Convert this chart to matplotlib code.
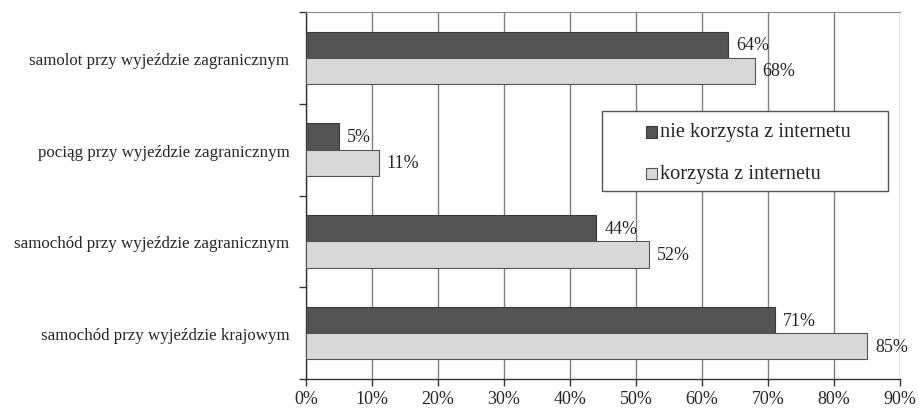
import matplotlib
matplotlib.use("Agg")
import matplotlib.pyplot as plt
import numpy as np
from matplotlib.patches import Rectangle

plt.rcParams['font.family'] = ['Liberation Serif', 'DejaVu Serif']

categories = [
    "samolot przy wyjeździe zagranicznym",
    "pociąg przy wyjeździe zagranicznym",
    "samochód przy wyjeździe zagranicznym",
    "samochód przy wyjeździe krajowym",
]
no_internet = [64, 5, 44, 71]
internet = [68, 11, 52, 85]
series_names = ["nie korzysta z internetu", "korzysta z internetu"]
xticks = [0, 10, 20, 30, 40, 50, 60, 70, 80, 90]

dark = "#545454"
light = "#d9d9d9"
edge = "#3a3a3a"
text_color = "#262626"

W, H = 920, 410
fig = plt.figure(figsize=(W / 100, H / 100), dpi=100)
ax = fig.add_axes([306 / W, 30 / H, 594 / W, 367 / H])

n = len(categories)
pos = np.arange(n)[::-1].astype(float)  # first category at top
h = 0.285

ax.barh(pos + h / 2, no_internet, height=h, color=dark, edgecolor=edge, linewidth=0.8, zorder=3)
ax.barh(pos - h / 2, internet, height=h, color=light, edgecolor="#555555", linewidth=0.8, zorder=3)

for p, v in zip(pos, no_internet):
    ax.text(v + 1.2, p + h / 2, f"{v}%", va="center", ha="left", fontsize=13, color=text_color)
for p, v in zip(pos, internet):
    ax.text(v + 1.2, p - h / 2, f"{v}%", va="center", ha="left", fontsize=13, color=text_color)

ax.set_xlim(0, 90)
ax.set_ylim(-0.5, n - 0.5)
ax.set_xticks(xticks)
ax.set_xticklabels([f"{t}%" for t in xticks], fontsize=13, color=text_color)
ax.set_yticks(pos)
ax.set_yticklabels(categories, fontsize=12.2, color=text_color)
ax.yaxis.set_minor_locator(matplotlib.ticker.FixedLocator(np.arange(-0.5, n, 1.0)))
ax.tick_params(axis="y", which="major", length=0, pad=12)
ax.tick_params(axis="y", which="minor", length=5, color="#333333", width=1)
ax.tick_params(axis="x", length=5, color="#333333", width=1, pad=3)

ax.grid(axis="x", color="#7f7f7f", linewidth=1, zorder=0)
ax.spines["top"].set_color("#8a8a8a")
ax.spines["right"].set_visible(False)
for s in ["left", "bottom"]:
    ax.spines[s].set_color("#333333")
    ax.spines[s].set_linewidth(1)

# Legend box drawn in figure pixel coordinates (origin bottom-left)
def fx(x):
    return x / W

def fy(y):
    return (H - y) / H

fig.add_artist(Rectangle((fx(602), fy(192)), (888 - 602) / W, (192 - 112) / H,
                         transform=fig.transFigure, facecolor="white",
                         edgecolor="#555555", linewidth=1, zorder=10))
for i, (name, col, ec) in enumerate(zip(series_names, [dark, light], [edge, "#555555"])):
    cy = 133 + i * 41
    fig.add_artist(Rectangle((fx(646), fy(cy + 5.5)), 11 / W, 11 / H,
                             transform=fig.transFigure, facecolor=col,
                             edgecolor=ec, linewidth=0.8, zorder=11))
    fig.text(fx(660), fy(cy), name, ha="left", va="center", fontsize=14.7,
             color=text_color, zorder=12)

fig.savefig("out.png", dpi=100, facecolor="white")
